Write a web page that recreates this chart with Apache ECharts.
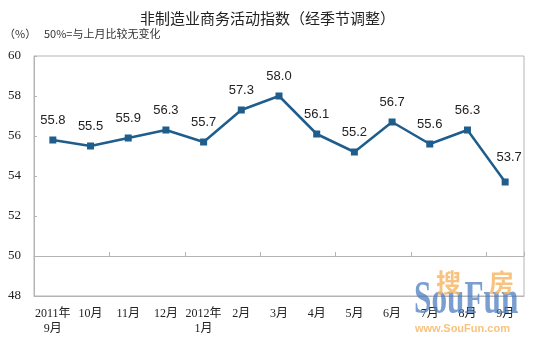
<!DOCTYPE html>
<html>
<head>
<meta charset="utf-8">
<script src="https://cdn.jsdelivr.net/npm/echarts@6/dist/echarts.min.js"></script>
<style>
  html, body { margin: 0; padding: 0; background: #fff; }
  #chart { width: 535px; height: 345px; }
</style>
</head>
<body>
<div id="chart"></div>
<script>
// 非制造业商务活动指数（经季节调整），2011年9月—2012年9月
var months = ['2011年\n9月', '10月', '11月', '12月', '2012年\n1月', '2月', '3月', '4月', '5月', '6月', '7月', '8月', '9月'];
var indexValues = [55.8, 55.5, 55.9, 56.3, 55.7, 57.3, 58.0, 56.1, 55.2, 56.7, 55.6, 56.3, 53.7];
var yTicks = { min: 48, max: 60, interval: 2 };
var baseline = 50;

var serifFont = '"Liberation Serif", "Times New Roman", "Noto Sans CJK SC", serif';
var cjkFont = '"Noto Sans CJK SC", "Liberation Sans", sans-serif';
var lineColor = '#1f5d8c';
var axisColor = '#b4b4b4';

var chart = echarts.init(document.getElementById('chart'), null, { renderer: 'canvas' });

var seriesData = indexValues.map(function (v, i) {
  var item = { value: v };
  if (i === indexValues.length - 1) {
    item.label = { distance: 15, offset: [4, 0] };
  }
  return item;
});

// pixel height of one y unit, used to place the 50 reference axis
var gridTop = 56, gridHeight = 240;
var pxPerUnit = gridHeight / (yTicks.max - yTicks.min);

chart.setOption({
  backgroundColor: '#ffffff',
  animation: false,
  title: {
    text: '非制造业商务活动指数（经季节调整）',
    left: 'center',
    top: 6,
    textStyle: { fontFamily: cjkFont, fontSize: 15, fontWeight: 'normal', color: '#222' }
  },
  graphic: [
    { type: 'text', left: 4, top: 28, style: { text: '（%）', font: '11px ' + cjkFont, fill: '#333' } },
    { type: 'text', left: 44, top: 28, style: { text: '50%=与上月比较无变化', font: '11px ' + cjkFont, fill: '#333' } },
    // site watermark
    { type: 'text', x: 414, y: 278, scaleX: 0.68, z: 100, style: { text: 'SouFun', font: 'bold 46px "Liberation Serif", serif', fill: 'rgba(70,120,190,0.72)' } },
    { type: 'text', x: 436, y: 270, z: 101, style: { text: '搜', font: 'bold 25px ' + cjkFont, fill: 'rgba(245,180,95,0.8)' } },
    { type: 'text', x: 489, y: 270, z: 101, style: { text: '房', font: 'bold 25px ' + cjkFont, fill: 'rgba(245,180,95,0.8)' } },
    { type: 'text', x: 415, y: 323, z: 100, style: { text: 'www.SouFun.com', font: 'bold 11px "Liberation Sans", sans-serif', fill: 'rgba(245,180,95,0.8)' } }
  ],
  grid: {
    left: 34, right: 11, top: gridTop, height: gridHeight,
    show: true, borderColor: axisColor, borderWidth: 1
  },
  xAxis: [
    {
      type: 'category',
      data: months,
      boundaryGap: true,
      position: 'bottom',
      axisLine: { show: true, onZero: false, lineStyle: { color: axisColor, width: 1 } },
      axisTick: { show: false },
      axisLabel: {
        interval: 0, margin: 10, lineHeight: 15,
        fontFamily: serifFont, fontSize: 12, color: '#222'
      },
      splitLine: { show: false }
    },
    {
      // category axis crossing the value axis at 50
      type: 'category',
      data: months,
      boundaryGap: true,
      position: 'bottom',
      offset: -(baseline - yTicks.min) * pxPerUnit,
      axisLine: { show: true, onZero: false, lineStyle: { color: axisColor, width: 1 } },
      axisTick: { show: true, inside: true, length: 4, lineStyle: { color: axisColor } },
      axisLabel: { show: false },
      splitLine: { show: false }
    }
  ],
  yAxis: {
    type: 'value',
    min: yTicks.min, max: yTicks.max, interval: yTicks.interval,
    axisLine: { show: true, lineStyle: { color: axisColor, width: 1 } },
    axisTick: { show: true, inside: true, length: 3, lineStyle: { color: axisColor } },
    axisLabel: { margin: 13, fontFamily: serifFont, fontSize: 13, color: '#222' },
    splitLine: { show: false }
  },
  series: [{
    type: 'line',
    xAxisIndex: 0,
    data: seriesData,
    symbol: 'rect',
    symbolSize: 7,
    lineStyle: { color: lineColor, width: 2.5 },
    itemStyle: { color: lineColor },
    label: {
      show: true,
      position: 'top',
      distance: 10,
      formatter: function (p) { return p.value.toFixed(1); },
      fontFamily: '"Liberation Sans", Arial, sans-serif',
      fontSize: 13,
      color: '#222'
    }
  }]
});
</script>
</body>
</html>
